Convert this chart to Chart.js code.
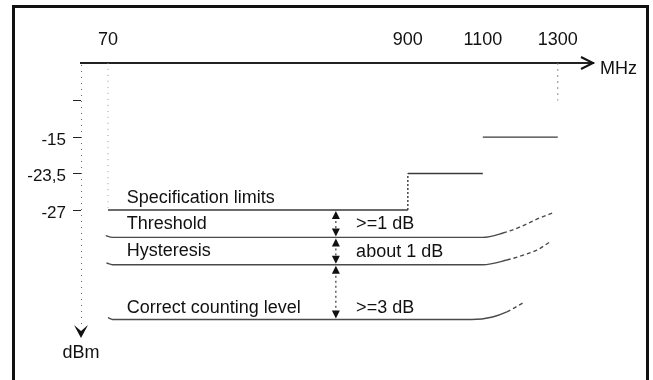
<!DOCTYPE html>
<html>
<head>
<meta charset="utf-8">
<script src="https://cdn.jsdelivr.net/npm/chart.js@4"></script>
<style>
  html, body { margin: 0; padding: 0; background: #fff; }
  canvas { display: block; }
</style>
</head>
<body>
<canvas id="chart" width="653" height="380"></canvas>
<script>
// schematic axes: frequency bands and level steps (not to scale)
const freqLabels = ["70", "900", "1100", "1300"];
const freqSteps = [0, 4, 5, 6];
const levelLabels = ["-27", "-23,5", "-15", ""];
const levelSteps = [0, 1, 2, 3];

// specification limit steps (null = no riser at 1100)
const specX = [0, 4, 4, 5, 5, 5, 6];
const specY = [0, 0, 1, 1, null, 2, 2];

const thresholdX = [-0.03, 0.06, 5.0, 5.27, 5.49, 5.72, 5.93];
const thresholdY = [-0.7, -0.75, -0.75, -0.63, -0.47, -0.25, -0.08];
const hysteresisX = [-0.02, 0.06, 5.0, 5.32, 5.59, 5.72, 5.89];
const hysteresisY = [-1.45, -1.5, -1.5, -1.37, -1.2, -1.1, -0.88];
const countingX = [0, 0.06, 4.85, 5.13, 5.32, 5.53];
const countingY = [-2.95, -3, -3, -2.93, -2.79, -2.55];

const lineLabels = ["Specification limits", "Threshold", "Hysteresis", "Correct counting level"];
const gapLabels = [">=1 dB", "about 1 dB", ">=3 dB"];
const gapFrom = [0, -0.75, -1.5];
const gapTo = [-0.75, -1.5, -3];

const FONT = "'Liberation Sans', Arial, sans-serif";
const INK = "#111";
const LINE = "#4a4a4a";

const pts = (xs, ys) => xs.map((x, i) => ({ x, y: ys[i] }));

const curveDash = {
  borderDash: (c) => (c.p0.parsed.x >= 5.2 ? [4, 3] : undefined),
};

function lineSet(data, extra) {
  return Object.assign(
    {
      data,
      borderColor: LINE,
      borderWidth: 1.4,
      pointRadius: 0,
      fill: false,
      spanGaps: false,
      cubicInterpolationMode: "monotone",
      segment: curveDash,
    },
    extra || {}
  );
}

const overlay = {
  id: "overlay",
  afterDraw(chart) {
    const { ctx, scales, chartArea: a } = chart;
    const x = scales.x;
    const y = scales.y;
    ctx.save();

    // outer frame
    ctx.strokeStyle = INK;
    ctx.lineWidth = 3;
    ctx.beginPath();
    ctx.moveTo(13.5, 400);
    ctx.lineTo(13.5, 6.5);
    ctx.lineTo(647.5, 6.5);
    ctx.lineTo(647.5, 400);
    ctx.stroke();

    // dotted level axis
    ctx.strokeStyle = "#666";
    ctx.lineWidth = 1;
    ctx.setLineDash([1, 5]);
    ctx.beginPath();
    ctx.moveTo(a.left + 0.5, a.top + 2);
    ctx.lineTo(a.left + 0.5, a.bottom);
    ctx.stroke();
    ctx.setLineDash([]);

    // x axis arrow + unit
    ctx.strokeStyle = INK;
    ctx.lineWidth = 2;
    ctx.beginPath();
    ctx.moveTo(a.right - 12, a.top - 6);
    ctx.lineTo(a.right, a.top);
    ctx.lineTo(a.right - 12, a.top + 6);
    ctx.stroke();
    ctx.fillStyle = INK;
    ctx.font = "18px " + FONT;
    ctx.textAlign = "left";
    ctx.textBaseline = "alphabetic";
    ctx.fillText("MHz", a.right + 7, a.top + 11);

    // y axis arrow + unit
    ctx.beginPath();
    ctx.moveTo(a.left - 7, a.bottom);
    ctx.lineTo(a.left, a.bottom + 13);
    ctx.lineTo(a.left + 7, a.bottom);
    ctx.lineTo(a.left, a.bottom + 6);
    ctx.closePath();
    ctx.fill();
    ctx.textAlign = "center";
    ctx.fillText("dBm", a.left, a.bottom + 33);

    // line labels
    ctx.textAlign = "left";
    const labelY = [0.19, -0.52, -1.26, -2.82];
    lineLabels.forEach((t, i) => {
      ctx.fillText(t, x.getPixelForValue(0.25), y.getPixelForValue(labelY[i]));
    });

    // gap arrows
    const ax = x.getPixelForValue(3.04);
    gapLabels.forEach((t, i) => {
      const y0 = y.getPixelForValue(gapFrom[i]);
      const y1 = y.getPixelForValue(gapTo[i]);
      ctx.strokeStyle = INK;
      ctx.lineWidth = 1;
      ctx.setLineDash([2, 3]);
      ctx.beginPath();
      ctx.moveTo(ax, y0 + 6);
      ctx.lineTo(ax, y1 - 6);
      ctx.stroke();
      ctx.setLineDash([]);
      ctx.beginPath();
      ctx.moveTo(ax, y0 + 1);
      ctx.lineTo(ax - 4, y0 + 9);
      ctx.lineTo(ax + 4, y0 + 9);
      ctx.closePath();
      ctx.moveTo(ax, y1 - 1);
      ctx.lineTo(ax - 4, y1 - 9);
      ctx.lineTo(ax + 4, y1 - 9);
      ctx.closePath();
      ctx.fill();
      const ty = [-0.52, -1.29, -2.82][i];
      ctx.fillText(t, x.getPixelForValue(3.31), y.getPixelForValue(ty));
    });

    ctx.restore();
  },
};

new Chart(document.getElementById("chart"), {
  type: "line",
  data: {
    datasets: [
      lineSet(pts(specX, specY), {
        borderColor: "#3a3a3a",
        cubicInterpolationMode: "default",
        tension: 0,
        segment: {
          borderDash: (c) => (c.p0.parsed.x === c.p1.parsed.x ? [2, 2] : undefined),
        },
      }),
      lineSet(pts(thresholdX, thresholdY)),
      lineSet(pts(hysteresisX, hysteresisY)),
      lineSet(pts(countingX, countingY)),
      // drop lines from the frequency axis
      lineSet(pts([0, 0], [4.03, 0]), {
        borderColor: "#999",
        borderWidth: 1,
        borderDash: [1, 5],
        segment: undefined,
      }),
      lineSet(pts([6, 6], [4.03, 3]), {
        borderColor: "#888",
        borderWidth: 1,
        borderDash: [2, 4],
        segment: undefined,
      }),
    ],
  },
  options: {
    responsive: false,
    animation: false,
    events: [],
    layout: { padding: { left: 0, top: 0, right: 60, bottom: 55 } },
    plugins: { legend: { display: false }, tooltip: { enabled: false } },
    scales: {
      x: {
        type: "linear",
        position: "top",
        min: -0.36,
        max: 6.47,
        afterFit: (s) => { s.height = 63; },
        afterBuildTicks: (s) => { s.ticks = freqSteps.map((v) => ({ value: v })); },
        grid: { display: false, drawTicks: false },
        border: { display: true, color: "#222", width: 2 },
        ticks: {
          autoSkip: false,
          maxRotation: 0,
          padding: 12,
          color: INK,
          font: { size: 18, family: FONT },
          callback: (v, i) => freqLabels[i],
        },
      },
      y: {
        type: "linear",
        min: -3.15,
        max: 4.03,
        afterFit: (s) => { s.width = 81; },
        afterBuildTicks: (s) => { s.ticks = levelSteps.map((v) => ({ value: v })); },
        grid: { display: true, drawOnChartArea: false, tickLength: 8, color: "#222" },
        border: { display: false },
        ticks: {
          autoSkip: false,
          padding: 7,
          labelOffset: 3,
          color: INK,
          font: { size: 17, family: FONT },
          callback: (v, i) => levelLabels[i],
        },
      },
    },
  },
  plugins: [overlay],
});
</script>
</body>
</html>
